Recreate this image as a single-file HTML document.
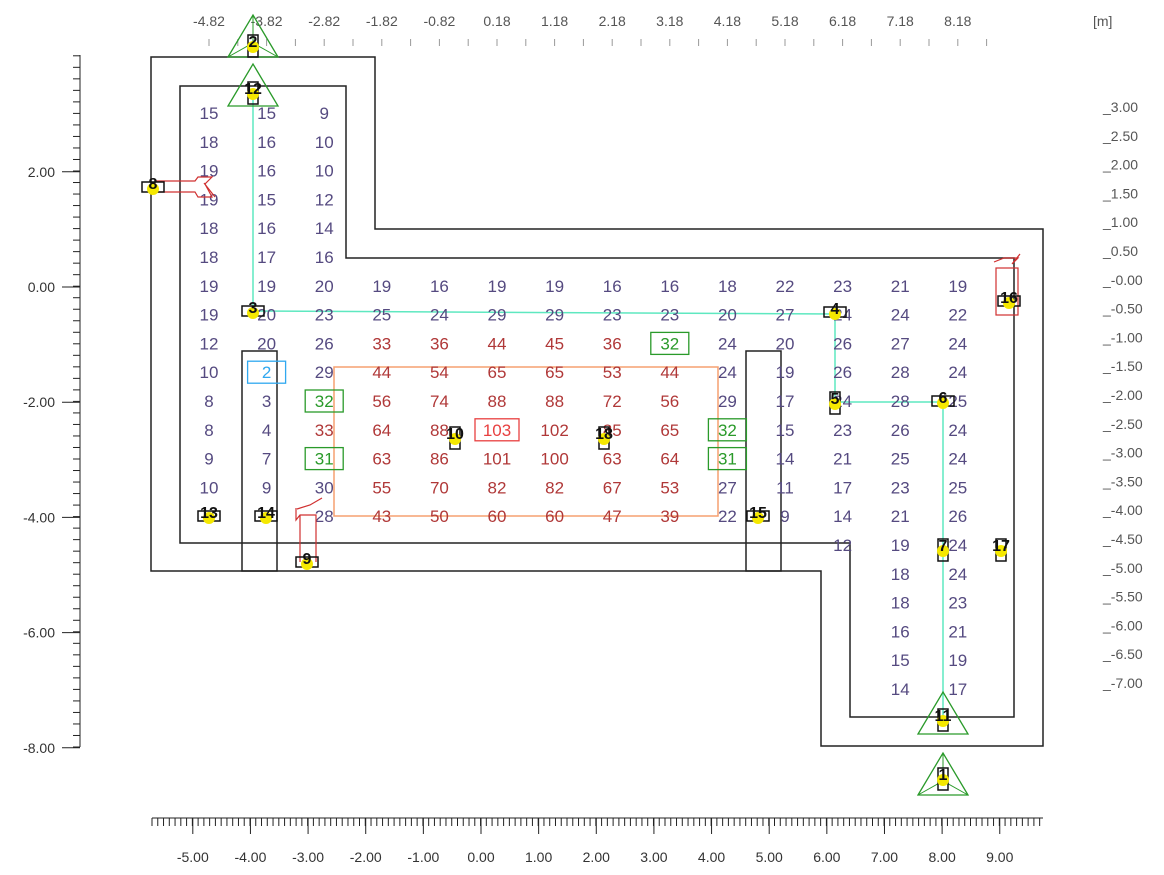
<!DOCTYPE html>
<html><head><meta charset="utf-8"><style>
body{margin:0;background:#fff}
svg{display:block;font-family:"Liberation Sans",sans-serif}
</style></head><body>
<svg id="s" width="1164" height="875" xmlns="http://www.w3.org/2000/svg">
<g fill="none" stroke="#222" stroke-width="1.5">
<polygon points="151,57 375,57 375,229 1043,229 1043,746 821,746 821,571 151,571"/>
<polygon points="180,86 346,86 346,258 1014,258 1014,717 850,717 850,543 180,543"/>
<rect x="242" y="351" width="35" height="220"/>
<rect x="746" y="351" width="35" height="220"/>
</g>
<rect x="334" y="367" width="384" height="149" fill="none" stroke="#f5a070" stroke-width="1.5"/>
<polyline points="253,100 253,311 835,314 835,402 943,402 943,717" fill="none" stroke="#5ee8c0" stroke-width="1.5"/>
<g id="grid" font-size="17" text-anchor="middle"></g>
<g id="axes" fill="#333" font-size="14"></g>
<g fill="none" stroke="#d03030" stroke-width="1.2">
<path d="M155,181 H195 L198,177 H212 L205,184 L212,197 H198 L195,192 H155 Z"/>
<path d="M204,183 L215,197"/>
<rect x="996" y="268" width="22" height="47"/>
<path d="M994,262 L1004,258 L1018,258 L1012,264 L1020,254"/>
<path d="M297,509 L310,505 L322,498 M296,508 V520 L300,515 H316 V562 M300,515 V562"/>
</g>
<g id="mk"></g>
</svg>
<script>
const NS="http://www.w3.org/2000/svg";
function el(p,t,a,txt){const e=document.createElementNS(NS,t);for(const k in a)e.setAttribute(k,a[k]);if(txt!==undefined)e.textContent=txt;document.getElementById(p).appendChild(e);return e;}
const cx=i=>209+57.6*i, ry=i=>113+28.8*i;
const N=null;
const rows=[
[15,15,9],[18,16,10],[19,16,10],[19,15,12],[18,16,14],[18,17,16],
[19,19,20,19,16,19,19,16,16,18,22,23,21,19],
[19,20,23,25,24,29,29,23,23,20,27,24,24,22],
[12,20,26,33,36,44,45,36,'g32',24,20,26,27,24],
[10,'b2',29,44,54,65,65,53,44,24,19,26,28,24],
[8,3,'g32',56,74,88,88,72,56,29,17,24,28,25],
[8,4,33,64,88,'r103',102,85,65,'g32',15,23,26,24],
[9,7,'g31',63,86,101,100,63,64,'g31',14,21,25,24],
[10,9,30,55,70,82,82,67,53,27,11,17,23,25],
[N,N,28,43,50,60,60,47,39,22,9,14,21,26],
[N,N,N,N,N,N,N,N,N,N,N,12,19,24],
[N,N,N,N,N,N,N,N,N,N,N,N,18,24],
[N,N,N,N,N,N,N,N,N,N,N,N,18,23],
[N,N,N,N,N,N,N,N,N,N,N,N,16,21],
[N,N,N,N,N,N,N,N,N,N,N,N,15,19],
[N,N,N,N,N,N,N,N,N,N,N,N,14,17]];
rows.forEach((r,i)=>r.forEach((v,j)=>{if(v===N)return;const x=cx(j),y=ry(i);
 if(typeof v==='string'){const c={g:'#2a9a2a',b:'#30a8f0',r:'#e84040'}[v[0]];const t=v.slice(1);const w=t.length>2?44:38;
  el('grid','rect',{x:x-w/2,y:y-11,width:w,height:22,fill:'none',stroke:c,'stroke-width':1.3});
  el('grid','text',{x,y:y+6,fill:c},t);}
 else el('grid','text',{x,y:y+6,fill:v>=33?'#b03838':'#554a80'},v);}));
for(let i=0;i<14;i++){el('axes','text',{x:cx(i),y:26,'text-anchor':'middle',fill:'#555'},(-4.82+i).toFixed(2));}
for(let x=209;x<1000;x+=28.8)el('axes','line',{x1:x,y1:39,x2:x,y2:46,stroke:'#999'});
el('axes','text',{x:1093,y:26,fill:'#555'},'[m]');
for(let i=0;i<21;i++){const v=3-0.5*i;el('axes','text',{x:1103,y:112+28.8*i,fill:'#555'},'_'+(v===0?'-0.00':v.toFixed(2)));}
el('axes','line',{x1:80,y1:55,x2:80,y2:747,stroke:'#222'});
for(let y=747;y>=55;y-=11.52){el('axes','line',{x1:73,y1:y,x2:80,y2:y,stroke:'#222'});}
for(let v=2;v>=-8;v-=2){const y=287-57.6*v;el('axes','line',{x1:62,y1:y,x2:80,y2:y,stroke:'#222'});el('axes','text',{x:55,y:y+5,'text-anchor':'end'},v.toFixed(2));}
el('axes','line',{x1:152,y1:818,x2:1043,y2:818,stroke:'#222'});
for(let k=0;;k++){const x=152+5.764*k;if(x>1044)break;el('axes','line',{x1:x,y1:818,x2:x,y2:826,stroke:'#222'});}
for(let v=-5;v<=9;v++){const x=481+57.64*v;el('axes','line',{x1:x,y1:818,x2:x,y2:834,stroke:'#222'});el('axes','text',{x,y:862,'text-anchor':'middle'},v.toFixed(2));}
function tri(x,y,inner){el('mk','polygon',{points:`${x-25},${y} ${x+25},${y} ${x},${y-42}`,fill:'none',stroke:'#2a9a2a','stroke-width':1.3});
 if(inner){el('mk','path',{d:`M${x-25},${y} L${x},${y-14} L${x+25},${y} M${x},${y-42} V${y-14}`,fill:'none',stroke:'#2a9a2a','stroke-width':1});}}
tri(253,57,true);tri(253,106,false);tri(943,734,false);tri(943,795,true);
const M=[['2',253,45,'v'],['12',253,92,'v'],['8',153,187,'h'],['3',253,311,'h'],['4',835,312,'h'],['5',835,402,'v'],['6',943,401,'h'],['7',943,549,'v'],['17',1001,549,'v'],['16',1009,301,'h'],['13',209,516,'h'],['14',266,516,'h'],['15',758,516,'h'],['9',307,562,'h'],['10',455,437,'v'],['18',604,437,'v'],['11',943,719,'v'],['1',943,778,'v']];
M.forEach(([l,x,y,o])=>{
 if(o==='h')el('mk','rect',{x:x-11,y:y-5,width:22,height:10,fill:'none',stroke:'#111','stroke-width':1.5});
 else el('mk','rect',{x:x-5,y:y-10,width:10,height:22,fill:'none',stroke:'#111','stroke-width':1.5});
 el('mk','circle',{cx:x,cy:y+2,r:6,fill:'#f5e800'});
 el('mk','text',{x,y:y+2,'text-anchor':'middle','font-size':16,'font-weight':'bold',fill:'#111'},l);});
</script>
</body></html>
